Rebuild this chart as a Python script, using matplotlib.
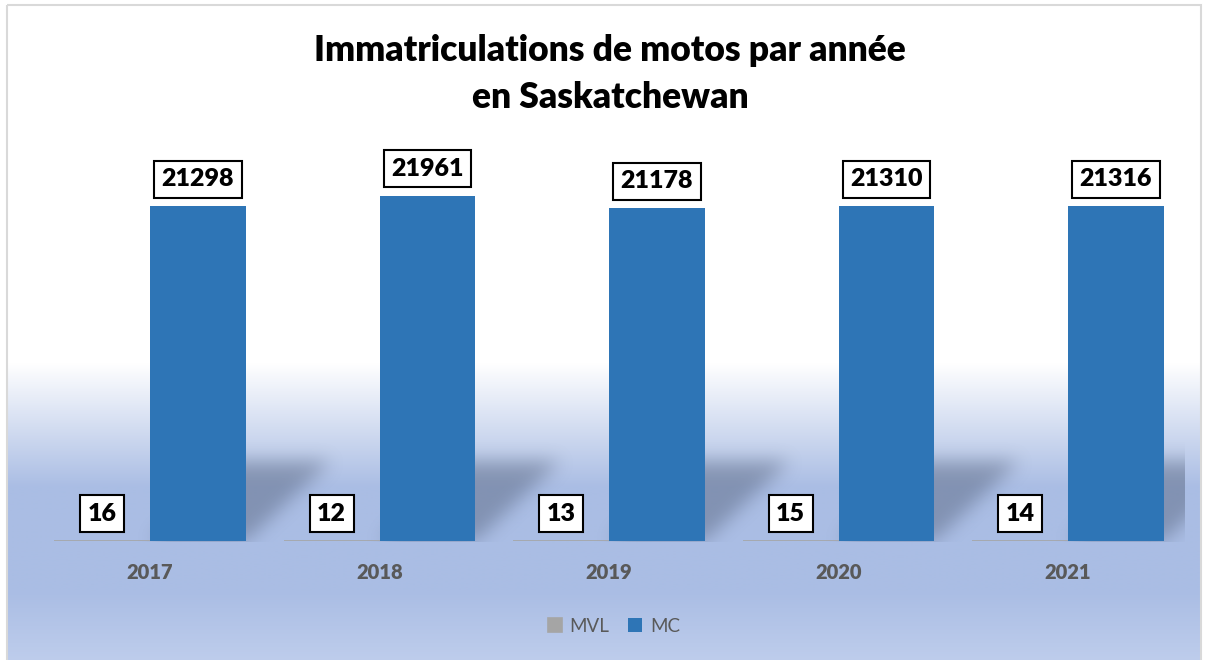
import numpy as np
import matplotlib
matplotlib.use("Agg")
import matplotlib.pyplot as plt
from matplotlib.path import Path
from matplotlib.patches import Rectangle

years = ["2017", "2018", "2019", "2020", "2021"]
mvl = [16, 12, 13, 15, 14]
mc = [21298, 21961, 21178, 21310, 21316]
series_names = ["MVL", "MC"]

W, H = 1206, 660
DPI = 100
fig = plt.figure(figsize=(W / DPI, H / DPI), dpi=DPI)
plt.rcParams['font.family'] = ['Lato', 'DejaVu Sans']

# background axes in pixel coords
bg = fig.add_axes([0, 0, 1, 1], zorder=0)
bg.set_xlim(0, W)
bg.set_ylim(H, 0)
bg.axis('off')

# gradient
ys = np.arange(H)
stops_y = [0, 360, 485, 590, 660]
white = np.array([255, 255, 255])
blue = np.array([170, 189, 228])
blue2 = np.array([190, 205, 236])
cols = np.array([white, white, blue, blue, blue2], dtype=float)
grad = np.stack([np.interp(ys, stops_y, cols[:, c]) for c in range(3)], axis=1) / 255.0
img = np.repeat(grad[:, None, :], 2, axis=1)
bg.imshow(img, extent=(8, 1200, H, 6), aspect='auto', zorder=0, interpolation='bilinear')
bg.add_patch(Rectangle((7, 5), 1194, 670, fill=False, ec='#D9D9D9', lw=1.5, zorder=5))

# main axes
base_px = 541
top_px = 150
left_px, right_px = 35.25, 1182.75
ymax = (base_px - top_px) * 21961 / 345.0
ax = fig.add_axes([left_px / W, (H - base_px) / H, (right_px - left_px) / W, (base_px - top_px) / H], zorder=2)
ax.set_facecolor('none')
ax.set_xlim(-0.5, len(years) - 0.5)
ax.set_ylim(0, ymax)
for s in ax.spines.values():
    s.set_visible(False)
ax.set_yticks([])

x = np.arange(len(years))
bw = 0.418
b1 = ax.bar(x - bw / 2, mvl, bw, color='#A5A5A5', edgecolor='#A5A5A5', lw=1.2, label=series_names[0], zorder=3)
b2 = ax.bar(x + bw / 2, mc, bw, color='#2E75B6', label=series_names[1], zorder=3)

ax.set_xticks(x)
ax.set_xticklabels(years, fontsize=14.5, fontweight='heavy', color='#595959')
ax.tick_params(axis='x', length=0, pad=16)

box = dict(boxstyle='square,pad=0.3', fc='white', ec='black', lw=1.5)
for bars, vals in ((b1, mvl), (b2, mc)):
    for r, v in zip(bars, vals):
        ax.annotate(str(v), (r.get_x() + r.get_width() / 2, r.get_height()),
                    xytext=(0, 19.5), textcoords='offset points', ha='center', va='center',
                    fontsize=18, fontweight='heavy', color='black', bbox=box, zorder=6)

# perspective shadows for MC bars (rasterised and blurred)
fig.canvas.draw()
dx_data = 0.37
dy_frac = 80.0 / 345.0 * 21961
yy, xx = np.mgrid[0:H, 0:W]
pts = np.column_stack([xx.ravel() + 0.5, (H - yy.ravel()) - 0.5])
mask = np.zeros(H * W)
for r in b2:
    x0, x1 = r.get_x(), r.get_x() + r.get_width()
    poly = [(x0, 0), (x1, 0), (x1 + dx_data, dy_frac), (x0 + dx_data, dy_frac)]
    disp = ax.transData.transform(poly)
    mask = np.maximum(mask, Path(disp).contains_points(pts).astype(float))
mask = mask.reshape(H, W)

def box_blur(a, k, axis):
    pad = k // 2
    a = np.pad(a, [(pad, pad) if i == axis else (0, 0) for i in range(2)], mode='edge')
    c = np.cumsum(a, axis=axis)
    c = np.insert(c, 0, 0, axis=axis)
    if axis == 0:
        return (c[k:] - c[:-k])[:H] / k
    return (c[:, k:] - c[:, :-k])[:, :W] / k

for _ in range(3):
    mask = box_blur(mask, 17, 0)
    mask = box_blur(mask, 17, 1)
# clip to plot area
clip = np.zeros_like(mask)
clip[int(top_px):base_px + 1, int(left_px):int(right_px) + 3] = 1
mask = mask * clip
shadow = np.zeros((H, W, 4))
shadow[..., 0] = 70 / 255
shadow[..., 1] = 82 / 255
shadow[..., 2] = 105 / 255
shadow[..., 3] = mask * 0.4
bg.imshow(shadow, extent=(0, W, H, 0), aspect='auto', zorder=2, interpolation='bilinear')

# title
fig.text(610 / W, 1 - 74 / H, "Immatriculations de motos par année\nen Saskatchewan",
         ha='center', va='center', fontsize=25.5, fontweight='heavy', color='black', linespacing=1.5)

leg = fig.legend(handles=[b1, b2], labels=series_names, loc='center', bbox_to_anchor=(614 / W, 1 - 626 / H),
                 ncol=2, frameon=False, fontsize=13.5, handlelength=0.75, handleheight=0.75,
                 handletextpad=0.4, columnspacing=1.0)
for t in leg.get_texts():
    t.set_color('#595959')

fig.savefig('out.png', dpi=DPI)
